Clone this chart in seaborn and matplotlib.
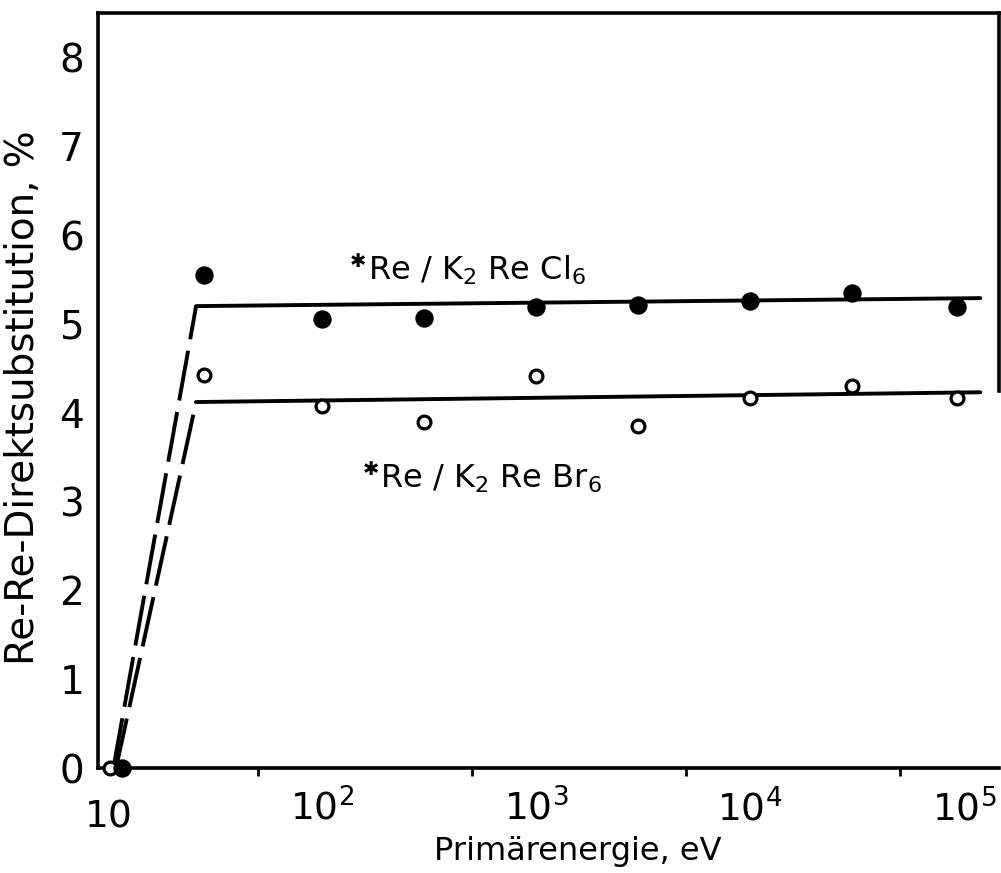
import numpy as np
import pandas as pd
import matplotlib
matplotlib.use("Agg")
import matplotlib.pyplot as plt
import seaborn as sns

# ---------------- data ----------------
energy = [28, 100, 300, 1000, 3000, 10000, 30000, 93000]          # eV
cl_values = [5.55, 5.06, 5.07, 5.19, 5.21, 5.26, 5.35, 5.19]      # %  Re/K2ReCl6
br_values = [4.43, 4.08, 3.90, 4.41, 3.85, 4.17, 4.30, 4.17]      # %  Re/K2ReBr6
zero_energy_cl = [11.6]
zero_value_cl = [0.0]
zero_energy_br = [10.2]
zero_value_br = [0.0]

# drawn trend lines: threshold rise (dashed) and plateau (solid)
cl_rise_x = [10.6, 25.8]
cl_rise_y = [0.0, 5.20]
cl_plateau_x = [25.8, 119000]
cl_plateau_y = [5.20, 5.29]
br_rise_x = [10.9, 25.8]
br_rise_y = [0.0, 4.12]
br_plateau_x = [25.8, 119000]
br_plateau_y = [4.12, 4.23]

xtick_values = [10, 100, 1000, 10000, 100000]
xtick_labels = ["$10$", "$10^{2}$", "$10^{3}$", "$10^{4}$", "$10^{5}$"]
xminor_values = [50, 500, 5000, 50000]
ytick_values = [0, 1, 2, 3, 4, 5, 6, 7, 8]
ytick_labels = ["0", "1", "2", "3", "4", "5", "6", "7", "8"]
cl_label = "Re / K$_2$ Re Cl$_6$"
br_label = "Re / K$_2$ Re Br$_6$"
cl_label_pos = (164, 5.50)
br_label_pos = (187, 3.16)
x_title = "Primärenergie, eV"
y_title = "Re-Re-Direktsubstitution, %"

# ---------------- style ----------------
sns.set_style("white")
plt.rcParams["font.family"] = ["DejaVu Sans"]
plt.rcParams["mathtext.fontset"] = "dejavusans"
plt.rcParams["mathtext.default"] = "regular"
plt.rcParams["text.color"] = "black"
plt.rcParams["axes.labelcolor"] = "black"
plt.rcParams["xtick.color"] = "black"
plt.rcParams["ytick.color"] = "black"

fig = plt.figure(figsize=(10.01, 8.73), dpi=100)
ax = fig.add_axes([98 / 1001, 105 / 873, 901 / 1001, 755 / 873])

lw = 2.8
dash = (0, (13, 3))

# points
pts = pd.DataFrame({"E": energy, "Cl": cl_values, "Br": br_values})
sns.scatterplot(data=pts, x="E", y="Br", ax=ax, marker="o", s=85,
                facecolor="white", edgecolor="black", linewidth=2.3,
                clip_on=False, zorder=4)
sns.scatterplot(data=pts, x="E", y="Cl", ax=ax, marker="o", s=175,
                color="black", edgecolor="black", linewidth=0,
                clip_on=False, zorder=4)
sns.scatterplot(x=zero_energy_br, y=zero_value_br, ax=ax, marker="o", s=85,
                facecolor="white", edgecolor="black", linewidth=2.3,
                clip_on=False, zorder=5)
sns.scatterplot(x=zero_energy_cl, y=zero_value_cl, ax=ax, marker="o", s=175,
                color="black", edgecolor="black", linewidth=0,
                clip_on=False, zorder=6)

# lines
sns.lineplot(x=cl_rise_x, y=cl_rise_y, ax=ax, color="black", lw=lw,
             linestyle=dash, sort=False, estimator=None)
sns.lineplot(x=br_rise_x, y=br_rise_y, ax=ax, color="black", lw=lw,
             linestyle=dash, sort=False, estimator=None)
sns.lineplot(x=cl_plateau_x, y=cl_plateau_y, ax=ax, color="black", lw=lw,
             sort=False, estimator=None)
sns.lineplot(x=br_plateau_x, y=br_plateau_y, ax=ax, color="black", lw=lw,
             sort=False, estimator=None)

# axes
ax.set_xscale("log")
ax.set_xlim(8.98, 1.455e5)
ax.set_ylim(0, 8.5)
ax.set_xticks(xtick_values, xtick_labels)
ax.set_xticks(xminor_values, minor=True)
ax.xaxis.set_minor_formatter(matplotlib.ticker.NullFormatter())
ax.set_yticks(ytick_values, ytick_labels)
ax.tick_params(axis="both", which="both", direction="out", length=6,
               width=2, color="black", labelcolor="black")
ax.tick_params(axis="x", which="major", labelsize=27, pad=9)
ax.tick_params(axis="y", which="major", labelsize=28, pad=4)
ax.tick_params(axis="y", which="minor", left=False)
ax.tick_params(axis="x", which="minor", bottom=True)
ax.xaxis.get_major_ticks()[0].set_pad(16)

for side in ["left", "bottom", "top", "right"]:
    ax.spines[side].set_visible(True)
    ax.spines[side].set_color("black")
    ax.spines[side].set_linewidth(2.6)
ax.spines["right"].set_bounds(4.25, 8.5)

ax.set_xlabel(x_title, fontsize=23, color="black")
ax.xaxis.set_label_coords(0.532, -0.09)
ax.set_ylabel(y_title, fontsize=28, color="black")
ax.yaxis.set_label_coords(-0.062, 0.49)

# series labels with star
for (lx, ly), txt in [(cl_label_pos, cl_label), (br_label_pos, br_label)]:
    ax.text(lx, ly, txt, fontsize=23, ha="left", va="baseline", color="black")
    ax.annotate("✱", xy=(lx, ly), xytext=(-1, 9), textcoords="offset points",
                fontsize=14, ha="right", va="baseline", color="black",
                fontweight="bold")

ax.grid(False)
fig.savefig("out.png", dpi=100)
